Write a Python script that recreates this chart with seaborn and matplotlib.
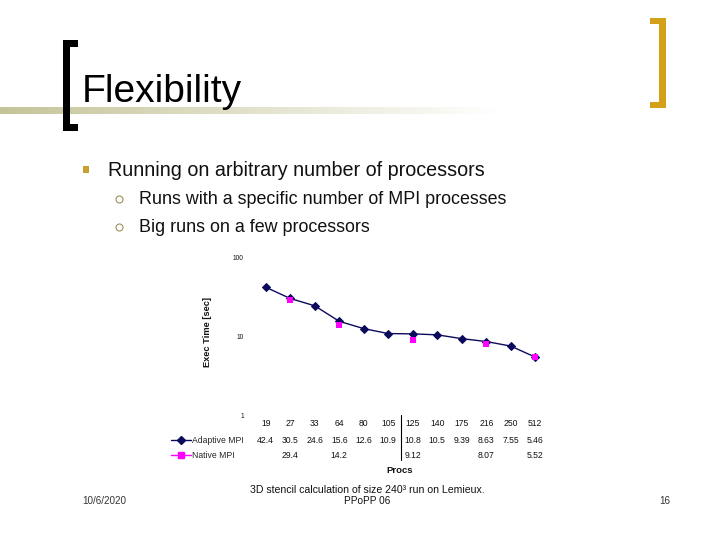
import numpy as np
import pandas as pd
import matplotlib
matplotlib.use("Agg")
import matplotlib.pyplot as plt
import matplotlib.transforms as mtransforms
from matplotlib.patches import Rectangle, Ellipse
from matplotlib.lines import Line2D
from matplotlib.ticker import NullLocator
import seaborn as sns

# ---------------- data ----------------
procs = ["19", "27", "33", "64", "80", "105", "125", "140", "175", "216", "250", "512"]
adaptive = [42.4, 30.5, 24.6, 15.6, 12.6, 10.9, 10.8, 10.5, 9.39, 8.63, 7.55, 5.46]
native_procs = ["27", "64", "125", "216", "512"]
native = [29.4, 14.2, 9.12, 8.07, 5.52]
y_ticks = [1, 10, 100]
y_ticklabels = ["1", "10", "100"]
series_names = ["Adaptive MPI", "Native MPI"]

title = "Flexibility"
bullet_main = "Running on arbitrary number of processors"
bullet_subs = ["Runs with a specific number of MPI processes",
               "Big runs on a few processors"]
caption_lines = ["3D stencil calculation of size 240\u00b3 run on Lemieux.", "PPoPP 06"]
date_text = "10/6/2020"
page_text = "16"

# ---------------- style ----------------
sns.set_theme(style="white")
plt.rcParams["font.family"] = ["Liberation Sans", "DejaVu Sans"]

NAVY = "#0b0b5e"
PINK = "#ff00ff"
GOLD = "#d4a017"
TXT = "#111111"

W, H = 720.0, 540.0
fig = plt.figure(figsize=(7.2, 5.4), dpi=100)
fig.patch.set_facecolor("white")


def fx(px):
    return px / W


def fy(py):
    return 1 - py / H


def rect(x, y, w, h, color):
    fig.add_artist(Rectangle((fx(x), fy(y + h)), w / W, h / H,
                             transform=fig.transFigure, color=color, lw=0))


# gradient bar under title
gax = fig.add_axes([0, fy(114), 500 / W, 7 / H])
base = np.array([0.77, 0.77, 0.60])
t = np.linspace(0, 1, 256)
grad = base[None, :] * (1 - t[:, None]) + np.ones(3)[None, :] * t[:, None]
gax.imshow(grad[None, :, :], aspect="auto", extent=[0, 1, 0, 1])
gax.set_axis_off()

# brackets
rect(62.5, 40.5, 7, 90, "black")
rect(62.5, 40.5, 15, 6.5, "black")
rect(62.5, 124, 15, 6.5, "black")
rect(659, 17.7, 6.7, 90.6, GOLD)
rect(650, 17.7, 15.7, 6.6, GOLD)
rect(650, 101.7, 15.7, 6.6, GOLD)

# title and bullets
fig.text(fx(81.5), fy(102), title, fontsize=28.1, color="black", va="baseline", ha="left")
rect(83, 166, 5.5, 6.5, "#c8a030")
fig.text(fx(108.5), fy(176.5), bullet_main, fontsize=14.2, color=TXT, va="baseline", ha="left")
for i, s in enumerate(bullet_subs):
    yb = 204 + 28 * i
    fig.add_artist(Ellipse((fx(119.5), fy(yb - 4.5)), 7 / W, 7 / H, transform=fig.transFigure,
                           facecolor="none", edgecolor="#9c8e5a", lw=0.8))
    fig.text(fx(139), fy(yb), s, fontsize=12.9, color=TXT, va="baseline", ha="left")

# ---------------- chart ----------------
ax = fig.add_axes([fx(253.5), fy(415), 294 / W, 157 / H])
ax.set_facecolor("white")

pos = list(range(len(procs)))
df_a = pd.DataFrame({"pos": pos, "time": adaptive})
df_n = pd.DataFrame({"pos": [procs.index(p) for p in native_procs], "time": native})

sns.lineplot(data=df_a, x="pos", y="time", ax=ax, color=NAVY, lw=1.0, marker="D",
             markersize=4.0, markeredgecolor=NAVY, legend=False, zorder=2)
sns.scatterplot(data=df_n, x="pos", y="time", ax=ax, marker="s", s=24, color=PINK,
                edgecolor=PINK, linewidth=0, legend=False, zorder=3)

ax.set_yscale("log")
ax.set_ylim(1, 100)
ax.set_xlim(-0.5, len(procs) - 0.5)
ax.yaxis.set_minor_locator(NullLocator())
ax.set_yticks(y_ticks)
ax.set_yticklabels(y_ticklabels, fontsize=4.8, color=TXT)
ax.set_xticks(pos)
ax.set_xticklabels(procs, fontsize=6.2, color=TXT)
ax.tick_params(axis="y", length=0, pad=7)
ax.tick_params(axis="x", length=0, pad=3.2)
for sp in ax.spines.values():
    sp.set_visible(False)
ax.grid(False)

ax.set_ylabel("Exec Time [sec]", fontsize=6.7, fontweight="bold", color=TXT)
ax.yaxis.set_label_coords(-0.141, 0.529)
ax.set_xlabel("Procs", fontsize=6.8, fontweight="bold", color=TXT)
ax.xaxis.set_label_coords(0.497, -0.328)

# data table
blend = mtransforms.blended_transform_factory(ax.transData, ax.transAxes)
row_a = -0.162
row_n = -0.258
for x, v in zip(df_a["pos"], adaptive):
    ax.text(x, row_a, f"{v:g}", transform=blend, ha="center", va="center", fontsize=6.2, color=TXT)
for x, v in zip(df_n["pos"], native):
    ax.text(x, row_n, f"{v:g}", transform=blend, ha="center", va="center", fontsize=6.2, color=TXT)
ax.add_line(Line2D([5.5, 5.5], [0, -0.287], transform=blend, color="black", lw=0.8, clip_on=False))

h_a = Line2D([], [], color=NAVY, lw=1, marker="D", markersize=3.8, markeredgecolor=NAVY)
h_n = Line2D([], [], color=PINK, lw=1, marker="s", markersize=4.3, markeredgecolor=PINK)
leg_x = (171 - 253.5) / 294
leg1 = ax.legend([h_a], [series_names[0]], loc="center left", bbox_to_anchor=(leg_x, row_a),
                 frameon=False, fontsize=6.2, handlelength=2.3, handletextpad=0.1,
                 borderpad=0, borderaxespad=0)
ax.add_artist(leg1)
ax.legend([h_n], [series_names[1]], loc="center left", bbox_to_anchor=(leg_x, row_n),
          frameon=False, fontsize=6.2, handlelength=2.3, handletextpad=0.1,
          borderpad=0, borderaxespad=0)

# caption and footer
fig.text(fx(367.5), fy(490), caption_lines[0], fontsize=7.6, color=TXT, ha="center", va="center")
fig.text(fx(367.5), fy(500.5), caption_lines[1], fontsize=7.2, color=TXT, ha="center", va="center")
fig.text(fx(104), fy(500.5), date_text, fontsize=7.1, color="#333333", ha="center", va="center")
fig.text(fx(665), fy(500.5), page_text, fontsize=7.1, color="#333333", ha="center", va="center")

fig.savefig("out.png", dpi=100)
